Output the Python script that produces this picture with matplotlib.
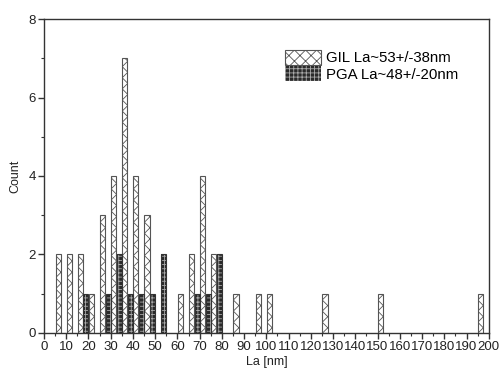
import matplotlib
matplotlib.use("Agg")
import matplotlib.pyplot as plt
from matplotlib.ticker import MultipleLocator

# Histogram bins (bin start, nm; bin width 5 nm) and counts
BIN_WIDTH = 5
gil_bins = [5, 10, 15, 20, 25, 30, 35, 40, 45, 60, 65, 70, 75, 85, 95, 100, 125, 150, 195]
gil_counts = [2, 2, 2, 1, 3, 4, 7, 4, 3, 1, 2, 4, 2, 1, 1, 1, 1, 1, 1]
pga_bins = [15, 25, 30, 35, 40, 45, 50, 65, 70, 75]
pga_counts = [1, 1, 2, 1, 1, 1, 2, 1, 1, 2]

gil_label = "GIL La~53+/-38nm"
pga_label = "PGA La~48+/-20nm"

plt.rcParams["font.family"] = ["Liberation Sans", "DejaVu Sans"]
plt.rcParams["hatch.linewidth"] = 0.6

AX_COLOR = "#333333"

fig = plt.figure(figsize=(5.02, 3.74), dpi=100)
ax = fig.add_axes([0.0876, 0.110, 0.886, 0.839])

bar_w = 0.46 * BIN_WIDTH
gil_x = [b + 0.27 * BIN_WIDTH for b in gil_bins]
pga_x = [b + 0.77 * BIN_WIDTH for b in pga_bins]

ax.bar(gil_x, gil_counts, width=bar_w, color="white", edgecolor="#555555",
       hatch="xxx", linewidth=0.8, label=gil_label, zorder=2)
ax.bar(pga_x, pga_counts, width=bar_w, color="#2a2a2a", edgecolor="#aaaaaa",
       hatch="++++", linewidth=0, zorder=2, label=pga_label)
ax.bar(pga_x, pga_counts, width=bar_w, fill=False, edgecolor="#333333",
       linewidth=0.8, zorder=3)

ax.set_xlim(0, 200)
ax.set_ylim(0, 8)
ax.xaxis.set_major_locator(MultipleLocator(10))
ax.xaxis.set_minor_locator(MultipleLocator(5))
ax.yaxis.set_major_locator(MultipleLocator(2))
ax.yaxis.set_minor_locator(MultipleLocator(1))

for side in ("top", "right", "bottom", "left"):
    ax.spines[side].set_color(AX_COLOR)
    ax.spines[side].set_linewidth(1.0)
ax.tick_params(which="both", direction="out", colors=AX_COLOR,
               labelcolor="#222222", top=False, right=False)
ax.tick_params(which="major", length=4, width=1.0, labelsize=9.5, pad=2)
ax.tick_params(which="minor", length=2.5, width=0.8)

ax.set_xlabel("La [nm]", fontsize=9, color="#222222", labelpad=2)
ax.set_ylabel("Count", fontsize=9, color="#222222", labelpad=5)

leg = ax.legend(loc="upper left", bbox_to_anchor=(0.528, 0.92), frameon=False,
                fontsize=10.8, handlelength=2.4, handleheight=1.1,
                handletextpad=0.35, labelspacing=0.05, borderaxespad=0)

fig.savefig("out.png", dpi=100)
